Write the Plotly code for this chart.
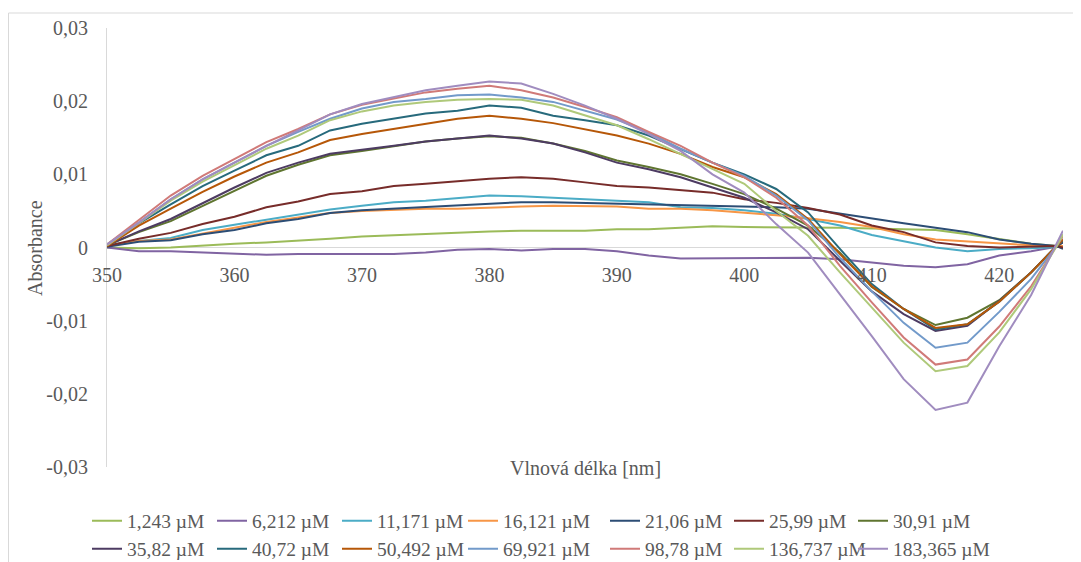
import plotly.graph_objects as go

# ---------------- data (absorbance x 1e-3) -------------
wavelength = [350, 352.5, 355, 357.5, 360, 362.5, 365, 367.5, 370, 372.5, 375, 377.5, 380,
              382.5, 385, 387.5, 390, 392.5, 395, 397.5, 400, 402.5, 405, 407.5, 410,
              412.5, 415, 417.5, 420, 422.5, 424.5, 425]

series_names = ["1,243 µM", "6,212 µM", "11,171 µM", "16,121 µM", "21,06 µM", "25,99 µM",
                "30,91 µM", "35,82 µM", "40,72 µM", "50,492 µM", "69,921 µM", "98,78 µM",
                "136,737 µM", "183,365 µM"]

s_1243 = [0, -0.1, 0, 0.3, 0.5, 0.7, 0.9, 1.2, 1.5, 1.7, 1.8, 2.0, 2.2, 2.3, 2.3, 2.3,
          2.5, 2.5, 2.7, 2.9, 2.8, 2.8, 2.8, 2.7, 2.6, 2.5, 2.4, 1.8, 1.1, 0.5, 0.2, -0.1]
s_6212 = [0, -0.5, -0.5, -0.7, -0.8, -1.0, -0.9, -0.9, -0.8, -0.9, -0.7, -0.3, -0.2, -0.4,
          -0.2, -0.2, -0.5, -1.1, -1.5, -1.5, -1.4, -1.4, -1.4, -1.6, -2.1, -2.5, -2.7,
          -2.3, -1.1, -0.5, 0.1, 0.2]
s_11171 = [0.3, 0.9, 1.3, 2.4, 3.1, 3.8, 4.5, 5.2, 5.7, 6.2, 6.4, 6.8, 7.1, 7.0, 6.8, 6.6,
           6.4, 6.2, 5.5, 5.4, 5.1, 4.6, 3.9, 3.0, 1.7, 0.9, 0.0, -0.5, -0.2, -0.1, 0.1, 0.1]
s_16121 = [0.2, 0.9, 1.1, 1.9, 2.6, 3.5, 4.1, 4.7, 5.0, 5.2, 5.3, 5.3, 5.5, 5.6, 5.7, 5.7,
           5.6, 5.3, 5.3, 5.1, 4.8, 4.4, 4.0, 3.5, 2.8, 1.8, 1.1, 0.8, 0.5, 0.3, 0.2, 0.2]
s_2106 = [0.1, 0.8, 1.0, 1.8, 2.4, 3.3, 3.9, 4.7, 5.1, 5.3, 5.6, 5.8, 5.9, 6.2, 6.2, 6.1,
          6.0, 5.9, 5.8, 5.8, 5.7, 5.5, 5.3, 4.6, 4.0, 3.3, 2.7, 2.1, 1.1, 0.5, 0.2, -0.2]
s_2599 = [0.2, 1.2, 2.0, 3.2, 4.2, 5.5, 6.3, 7.3, 7.7, 8.4, 8.7, 9.1, 9.4, 9.6, 9.4, 8.9,
          8.4, 8.2, 7.8, 7.5, 6.6, 6.1, 5.4, 4.5, 3.0, 2.1, 0.7, 0.2, 0.0, 0.1, 0.2, 0.0]
s_3091 = [0.3, 2.1, 3.6, 5.7, 7.7, 9.8, 11.3, 12.6, 13.2, 13.9, 14.5, 14.9, 15.2, 15.0,
          14.2, 13.2, 11.9, 11.0, 10.0, 8.7, 7.3, 5.3, 3.0, -0.7, -5.4, -8.4, -10.6, -9.6,
          -7.2, -3.4, 0.2, 0.7]
s_3582 = [0.3, 2.2, 3.9, 6.1, 8.2, 10.2, 11.6, 12.8, 13.3, 13.9, 14.5, 14.9, 15.3, 14.9,
          14.2, 13.0, 11.6, 10.7, 9.6, 8.2, 6.8, 4.8, 2.5, -1.8, -6.0, -9.1, -11.4, -10.7,
          -7.3, -3.4, 0.2, 0.7]
s_4072 = [0.3, 3.3, 5.9, 8.4, 10.5, 12.6, 13.9, 16.0, 16.9, 17.6, 18.3, 18.7, 19.4, 19.1,
          18.0, 17.4, 16.7, 15.3, 13.5, 11.6, 10.0, 8.0, 4.8, -0.2, -5.0, -8.4, -11.2,
          -10.5, -7.4, -3.4, 0.2, 0.9]
s_50492 = [0.2, 3.0, 5.3, 7.6, 9.7, 11.6, 13.0, 14.7, 15.5, 16.2, 17.0, 17.6, 18.0, 17.6,
           17.0, 16.2, 15.3, 14.2, 12.8, 11.0, 9.6, 7.3, 3.9, -0.9, -5.3, -8.4, -11.0,
           -10.5, -7.4, -3.4, 0.2, 1.1]
s_69921 = [0.4, 3.4, 6.6, 9.3, 11.6, 13.9, 15.8, 17.6, 19.0, 19.9, 20.3, 20.8, 20.9, 20.5,
           19.9, 18.7, 17.5, 15.7, 13.5, 11.6, 9.8, 7.1, 3.7, -1.4, -6.0, -10.3, -13.7,
           -13.0, -8.8, -4.3, 0.2, 1.6]
s_9878 = [0.4, 3.7, 7.1, 9.8, 12.1, 14.4, 16.2, 18.2, 19.5, 20.3, 21.2, 21.7, 22.1, 21.5,
          20.5, 19.2, 17.8, 15.8, 13.9, 11.6, 9.6, 6.8, 3.0, -2.5, -7.5, -12.3, -16.0,
          -15.3, -10.8, -5.3, 0.2, 1.6]
s_136737 = [0.3, 3.4, 6.4, 9.0, 11.3, 13.5, 15.3, 17.4, 18.6, 19.4, 19.9, 20.2, 20.3, 20.2,
            19.4, 18.0, 16.7, 14.8, 12.8, 10.7, 8.7, 5.0, 1.6, -3.4, -8.2, -13.0, -16.9,
            -16.2, -11.6, -5.7, 0.2, 1.8]
s_183365 = [0.4, 3.4, 6.6, 9.3, 11.6, 13.9, 16.0, 18.2, 19.6, 20.5, 21.5, 22.1, 22.7, 22.4,
            21.0, 19.4, 17.6, 15.5, 13.2, 10.0, 7.5, 3.2, -0.7, -6.4, -12.1, -18.0, -22.2,
            -21.2, -13.5, -6.5, 0.5, 2.3]

series_values = [s_1243, s_6212, s_11171, s_16121, s_2106, s_2599, s_3091, s_3582,
                 s_4072, s_50492, s_69921, s_9878, s_136737, s_183365]

y_tick_vals = [0.03, 0.02, 0.01, 0, -0.01, -0.02, -0.03]
y_tick_text = ["0,03", "0,02", "0,01", "0", "-0,01", "-0,02", "-0,03"]
x_tick_vals = [350, 360, 370, 380, 390, 400, 410, 420]
x_tick_text = ["350", "360", "370", "380", "390", "400", "410", "420"]

# ---------------- styling ----------------
colors = ["#9BBB59", "#8064A2", "#4BACC6", "#F79646", "#2C4D75", "#772C2A", "#5F7530",
          "#4D3B62", "#276A7C", "#B65708", "#729ACA", "#D07A78", "#AFC97A", "#A08CBF"]

W, H = 1081, 562
OFF = 8  # page body margin offset of the figure in the browser window
ML, MT = 107 - OFF, 28 - OFF            # plot area left/top in figure pixels
PW, PH = 956, 439                       # plot area size
MR = W - ML - PW
MB = H - MT - PH
FONT = "Liberation Serif"
GRAY = "#595959"

# legend layout (screen pixels): start of the legend line symbol per column, row centres
LEG_COLS = [97, 222, 347, 473, 615, 739, 863]
LEG_ROWS = [521, 549]


def px_x(px):
    """screen pixel x -> paper coordinate"""
    return (px - OFF - ML) / PW


def px_y(py):
    """screen pixel y -> paper coordinate"""
    return (MT + PH - (py - OFF)) / PH


fig = go.Figure()
legends = {}
for i, (name, vals) in enumerate(zip(series_names, series_values)):
    key = "legend" if i == 0 else f"legend{i + 1}"
    row, col = divmod(i, 7)
    legends[key] = dict(
        x=px_x(LEG_COLS[col] - 10), y=px_y(LEG_ROWS[row]),
        xanchor="left", yanchor="middle", orientation="h",
        font=dict(family=FONT, size=19.5, color=GRAY),
        bgcolor="rgba(0,0,0,0)", itemwidth=30,
    )
    fig.add_trace(go.Scatter(
        x=wavelength, y=[v / 1000 for v in vals], mode="lines", name=name,
        line=dict(color=colors[i], width=2), legend=key,
    ))

fig.update_layout(
    width=W, height=H,
    margin=dict(l=ML, r=MR, t=MT, b=MB, autoexpand=False),
    paper_bgcolor="white", plot_bgcolor="white",
    font=dict(family=FONT, size=20, color=GRAY),
    showlegend=True,
    xaxis=dict(range=[350, 425], tickvals=x_tick_vals, ticktext=x_tick_text,
               showgrid=False, zeroline=False, showline=False,
               anchor="free", position=0.5, ticks="outside", ticklen=9,
               tickcolor="rgba(0,0,0,0)",
               tickfont=dict(family=FONT, size=20, color=GRAY)),
    yaxis=dict(range=[-0.03, 0.03], tickvals=y_tick_vals, ticktext=y_tick_text,
               showgrid=False, zeroline=True, zerolinecolor="#D9D9D9", zerolinewidth=1,
               showline=True, linecolor="#D9D9D9", linewidth=1,
               ticks="outside", ticklen=14, tickcolor="rgba(0,0,0,0)",
               tickfont=dict(family=FONT, size=20, color=GRAY)),
    annotations=[
        dict(text="Vlnová délka [nm]", x=px_x(585), y=px_y(468), xref="paper", yref="paper",
             showarrow=False, xanchor="center", yanchor="middle",
             font=dict(family=FONT, size=20, color=GRAY)),
        dict(text="Absorbance", x=px_x(35), y=px_y(248), xref="paper", yref="paper",
             showarrow=False, xanchor="center", yanchor="middle", textangle=-90,
             font=dict(family=FONT, size=20, color=GRAY)),
    ],
    shapes=[
        dict(type="line", xref="paper", yref="paper", x0=px_x(8.5), x1=px_x(8.5),
             y0=px_y(13), y1=px_y(575), line=dict(color="#D9D9D9", width=1)),
        dict(type="line", xref="paper", yref="paper", x0=px_x(8.5), x1=px_x(1095),
             y0=px_y(13), y1=px_y(13), line=dict(color="#D9D9D9", width=1)),
    ],
    **legends,
)

fig.write_html("out.html")
